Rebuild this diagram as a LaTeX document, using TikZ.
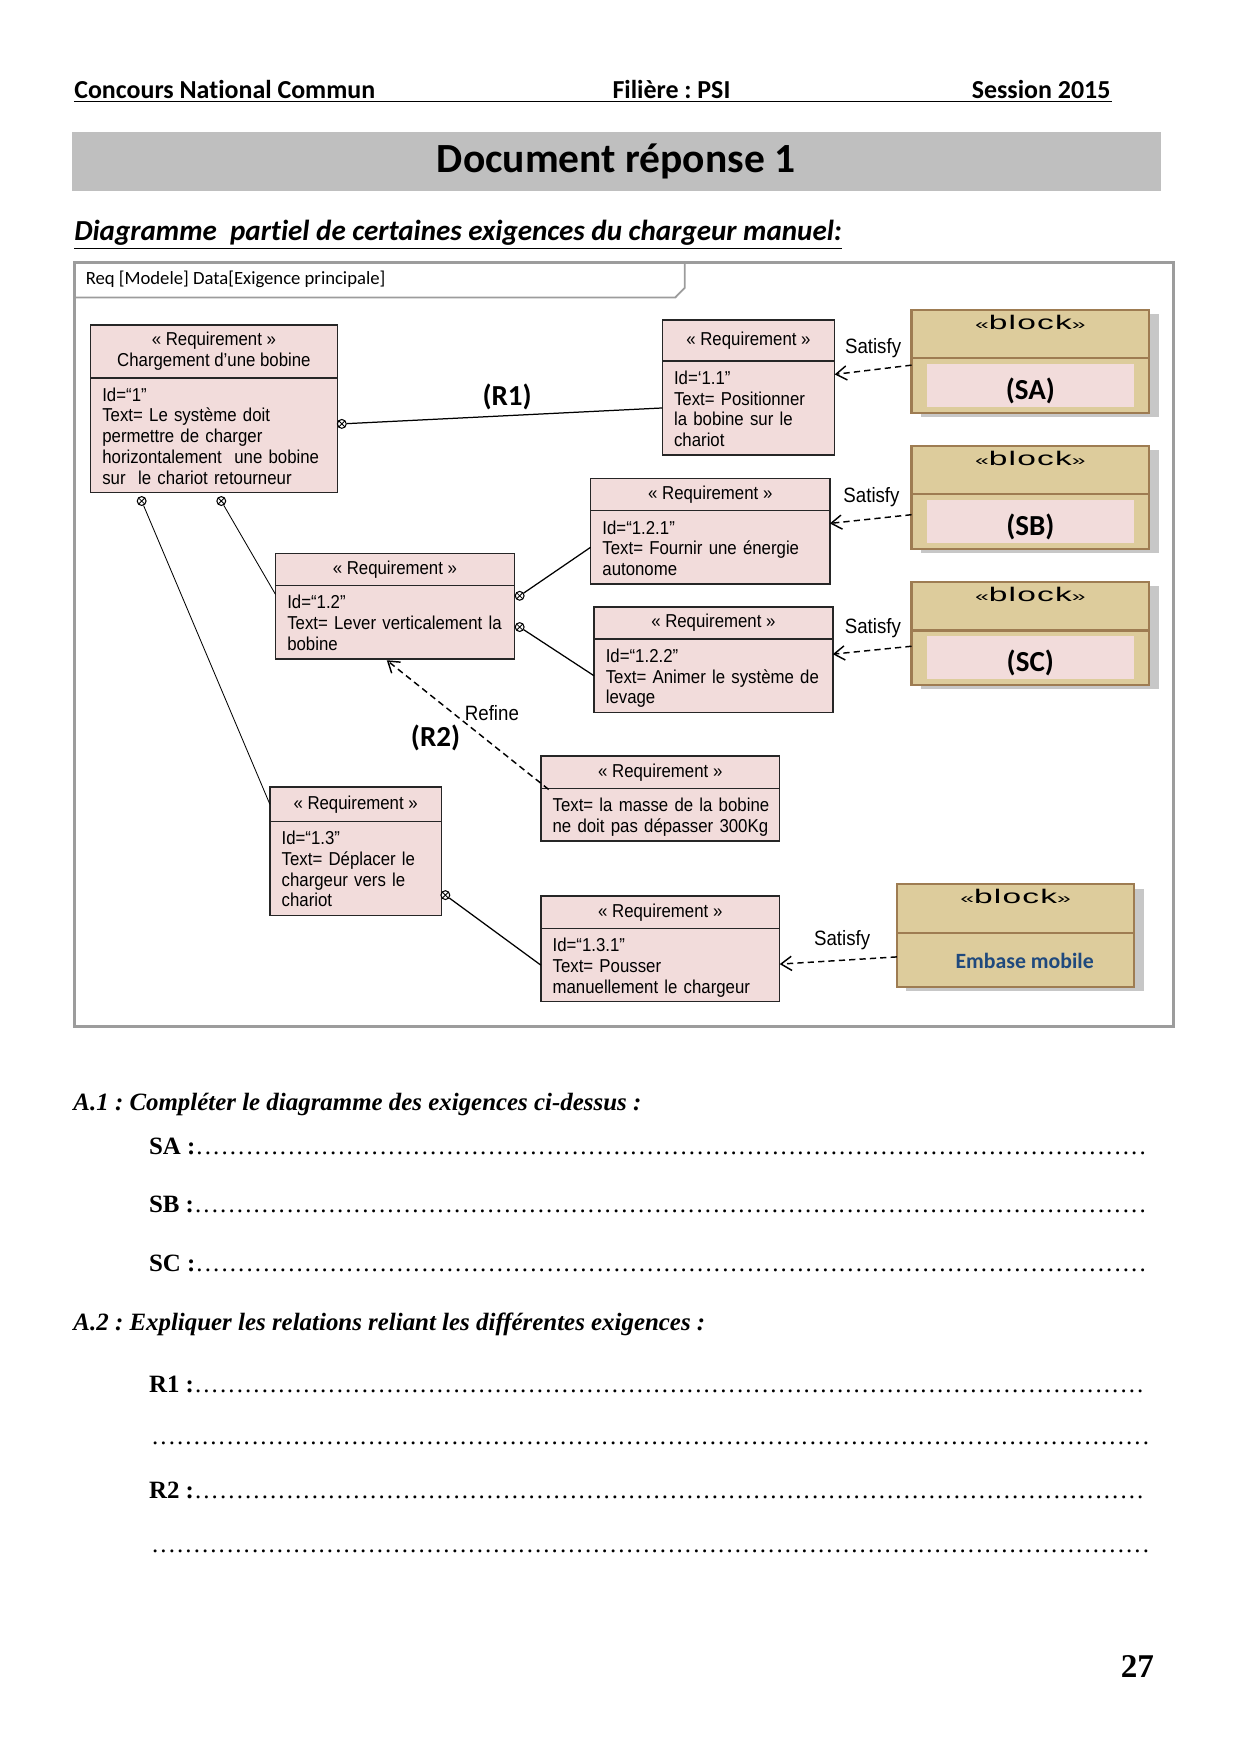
\documentclass[tikz,border=0pt]{standalone}
\usepackage{fontspec}
\setmainfont{Liberation Serif}
\newfontfamily\calibri[Ligatures={TeX,NoCommon}]{Carlito}
\newfontfamily\narrowsans[FakeStretch=0.9]{Liberation Sans}
\newfontfamily\widesans[FakeStretch=1.7, LetterSpace=6]{Liberation Sans}
\usetikzlibrary{shapes, arrows, arrows.meta, positioning, calc, shadows}
\frenchspacing

\definecolor{reqpink}{HTML}{F2DCDB}
\definecolor{blocktan}{HTML}{DDCC9C}
\definecolor{blockedge}{HTML}{9E7C52}
\definecolor{framegray}{HTML}{9C9C9C}
\definecolor{bandgray}{HTML}{BFBFBF}
\definecolor{embaseblue}{HTML}{1F497D}

\newcommand{\dotrow}{\xleaders\hbox to 4pt{\hss.\hss}\hfill}
\newcommand{\blocktag}{{\fontsize{7}{7}\selectfont«}block{\fontsize{7}{7}\selectfont»}}
\newcommand{\reqlines}[1]{\begin{tabular}{@{}l@{}}\rule{0pt}{10.2pt}#1\end{tabular}}

\begin{document}
\begin{tikzpicture}[x=0.01904cm, y=-0.01904cm, >={Straight Barb[length=1.8mm, width=2.4mm]},
    reqhead/.style={rectangle, draw=black!85, line width=0.7pt, fill=reqpink, outer sep=0pt, inner sep=0pt, align=center, font=\narrowsans\fontsize{9}{10}\selectfont},
    reqbody/.style={rectangle, draw=black!85, line width=0.7pt, fill=reqpink, outer sep=0pt, inner xsep=0.2cm, inner ysep=0pt, font=\narrowsans\fontsize{9}{10}\selectfont},
    blockhead/.style={rectangle, draw=blockedge, line width=1pt, fill=blocktan, outer sep=0pt, minimum width=4.025cm, minimum height=0.82cm, inner ysep=0.12cm, text height=0.21cm, text depth=0.37cm, font=\widesans\fontsize{9.5}{10}\selectfont, drop shadow={shadow xshift=0.16cm, shadow yshift=-0.07cm, fill=black!22, opacity=1}},
    blockbody/.style={rectangle, draw=blockedge, line width=1pt, fill=blocktan, outer sep=0pt, inner sep=0pt, minimum width=4.025cm, minimum height=0.92cm, drop shadow={shadow xshift=0.16cm, shadow yshift=-0.07cm, fill=black!22, opacity=1}},
    blockname/.style={rectangle, fill=reqpink, minimum width=3.5cm, minimum height=0.72cm, inner sep=0pt, text height=0.48cm, text depth=0pt, font=\calibri\bfseries\fontsize{14}{14}\selectfont},
    contain/.style={circle, draw, line width=0.5pt, fill=white, inner sep=0pt, minimum size=0.15cm, path picture={\draw[line width=0.4pt] (path picture bounding box.north west) -- (path picture bounding box.south east) (path picture bounding box.north east) -- (path picture bounding box.south west);}},
    satisfy/.style={->, dash pattern=on 3pt off 2pt, line width=0.7pt},
    rellabel/.style={inner sep=0pt, font=\narrowsans\fontsize{10}{10}\selectfont},
    relname/.style={inner sep=0pt, font=\calibri\bfseries\fontsize{14}{14}\selectfont},
    pagehead/.style={inner sep=0pt, font=\calibri\bfseries\fontsize{12.5}{14}\selectfont},
    question/.style={anchor=base west, inner sep=0pt, font=\bfseries\itshape\fontsize{12}{14}\selectfont},
    answer/.style={anchor=base west, inner sep=0pt, font=\fontsize{12}{14}\selectfont}
]
    \useasboundingbox (0,0) rectangle (1103,1560);

    % Page header
    \node (cnc) [pagehead, anchor=base west] at (65.7,87.5) {Concours National Commun};
    \node (filiere) [pagehead, anchor=base west] at (544.4,87.5) {Filière : PSI};
    \node (session) [pagehead, anchor=base east] at (988,87.5) {Session 2015};
    \draw[line width=0.6pt] (65.7,90) -- (989,90);
    \node (band) [fill=bandgray, minimum width=18.446cm, minimum height=0.988cm, inner sep=0pt, font=\calibri\bfseries\fontsize{20}{24}\selectfont] at (548,143.6) {Document réponse 1};
    \node (subtitle) [anchor=base west, inner sep=0pt, font=\calibri\bfseries\itshape\fontsize{14}{16}\selectfont] at (65.7,214) {\underline{Diagramme\ \ partiel de certaines exigences du chargeur manuel:}};

    % Frame
    \draw[framegray, line width=1.6pt] (66,233.5) rectangle (1043.5,913.2);
    \draw[framegray, line width=0.9pt] (66,264.6) -- (600.5,264.6) -- (609,256) -- (609,233.5);
    \node (frametitle) [anchor=west, inner sep=0pt, font=\calibri\fontsize{9}{10}\selectfont] at (75.9,248.5) {Req [Modele] Data[Exigence principale]};

    % Requirements
    \node (h1) [reqhead, anchor=north west, minimum width=4.18cm, minimum height=0.895cm] at (80.5,289) {« Requirement »\\Chargement d’une bobine};
    \node (b1) [reqbody, below=0pt of h1, text width=3.78cm, minimum height=1.942cm] {\reqlines{Id=“1”\\Text= Le système doit\\permettre de charger\\horizontalement\ \ une bobine\\sur\ \ le chariot retourneur}};

    \node (h11) [reqhead, anchor=north west, minimum width=2.921cm, minimum height=0.693cm] at (589,284.6) {« Requirement »};
    \node (b11) [reqbody, below=0pt of h11, text width=2.521cm, minimum height=1.594cm] {\reqlines{Id=‘1.1”\\Text= Positionner\\la bobine sur le\\chariot}};

    \node (h121) [reqhead, anchor=north west, minimum width=4.052cm, minimum height=0.537cm] at (525.3,425.8) {« Requirement »};
    \node (b121) [reqbody, below=0pt of h121, text width=3.652cm, minimum height=1.247cm] {\reqlines{Id=“1.2.1”\\Text= Fournir une énergie\\autonome}};

    \node (h12) [reqhead, anchor=north west, minimum width=4.046cm, minimum height=0.541cm] at (245,492.2) {« Requirement »};
    \node (b12) [reqbody, below=0pt of h12, text width=3.646cm, minimum height=1.249cm] {\reqlines{Id=“1.2”\\Text= Lever verticalement la\\bobine}};

    \node (h122) [reqhead, anchor=north west, minimum width=4.044cm, minimum height=0.541cm] at (528.3,540) {« Requirement »};
    \node (b122) [reqbody, below=0pt of h122, text width=3.644cm, minimum height=1.241cm] {\reqlines{Id=“1.2.2”\\Text= Animer le système de\\levage}};

    \node (hm) [reqhead, anchor=north west, minimum width=4.046cm, minimum height=0.546cm] at (481,672.5) {« Requirement »};
    \node (bm) [reqbody, below=0pt of hm, text width=3.646cm, minimum height=0.893cm] {\reqlines{Text= la masse de la bobine\\ne doit pas dépasser 300Kg}};

    \node (h13) [reqhead, anchor=north west, minimum width=2.906cm, minimum height=0.581cm] at (240,700) {« Requirement »};
    \node (b13) [reqbody, below=0pt of h13, text width=2.506cm, minimum height=1.59cm] {\reqlines{Id=“1.3”\\Text= Déplacer le\\chargeur vers le\\chariot}};

    \node (h131) [reqhead, anchor=north west, minimum width=4.046cm, minimum height=0.548cm] at (481,797) {« Requirement »};
    \node (b131) [reqbody, below=0pt of h131, text width=3.646cm, minimum height=1.241cm] {\reqlines{Id=“1.3.1”\\Text= Pousser\\manuellement le chargeur}};

    % Blocks
    \node (sah) [blockhead, anchor=north west] at (810.7,275.7) {\blocktag};
    \node (sab) [blockbody, below=0pt of sah] {};
    \node (sa) [blockname] at (sab) {(SA)};

    \node (sbh) [blockhead, anchor=north west] at (810.7,396.7) {\blocktag};
    \node (sbb) [blockbody, below=0pt of sbh] {};
    \node (sb) [blockname] at (sbb) {(SB)};

    \node (sch) [blockhead, anchor=north west] at (810.7,517.7) {\blocktag};
    \node (scb) [blockbody, below=0pt of sch] {};
    \node (sc) [blockname] at (scb) {(SC)};

    \node (emh) [blockhead, anchor=north west] at (797.6,786.6) {\blocktag};
    \node (emb) [blockbody, below=0pt of emh] {};
    \node (emname) [inner sep=0pt, text=embaseblue, font=\calibri\bfseries\fontsize{10.5}{12}\selectfont] at ($(emb)+(8,1)$) {Embase mobile};

    % Containment
    \node (m1) [contain] at (304,377) {};
    \node (m2) [contain] at (126,445.6) {};
    \node (m3) [contain] at (196.8,445.6) {};
    \node (m4) [contain] at (462.2,529.9) {};
    \node (m5) [contain] at (462.2,557.7) {};
    \node (m6) [contain] at (396.1,796.1) {};

    % Edges
    \draw[line width=0.6pt] (m1) -- (b11.west);
    \draw[line width=0.4pt] (m2) -- (h13.west);
    \draw[line width=0.4pt] (m3) -- ($(b12.north west)+(0,8)$);
    \draw[line width=0.6pt] (m4) -- (b121.west);
    \draw[line width=0.6pt] (m5) -- (b122.west);
    \draw[line width=0.6pt] (m6) -- (b131.west);
    \draw[satisfy] ($(sab.north west)+(0,6)$) -- ($(b11.north east)+(0,12)$);
    \draw[satisfy] ($(sbb.north west)+(0,18)$) -- ($(b121.north east)+(0,11.5)$);
    \draw[satisfy] ($(scb.north west)+(0,14)$) -- ($(b122.north east)+(0,13.4)$);
    \draw[satisfy] ($(emb.north west)+(0,21.4)$) -- ($(b131.north east)+(0,31.7)$);
    \draw[satisfy] ($(hm.south west)+(7,1)$) -- ($(b12.south west)+(99,1)$);

    % Labels
    \node (satA) [rellabel] at (776.5,309.8) {Satisfy};
    \node (satB) [rellabel] at (775.1,441.8) {Satisfy};
    \node (satC) [rellabel] at (776.3,558.9) {Satisfy};
    \node (satE) [rellabel] at (749,836.2) {Satisfy};
    \node (refine) [rellabel] at (437.5,634.5) {Refine};
    \node (r1) [relname] at (451,353) {(R1)};
    \node (r2) [relname] at (387.4,655.9) {(R2)};

    % Questions
    \node (qa1) [question] at (65,987.6) {A.1 : Compléter le diagramme des exigences ci-dessus :};
    \node (ansa) [answer] at (132.2,1026.4) {\hbox to 16.9cm{\textbf{SA :}\dotrow}};
    \node (ansb) [answer] at (132.2,1078.6) {\hbox to 16.9cm{\textbf{SB :}\dotrow}};
    \node (ansc) [answer] at (132.2,1130.7) {\hbox to 16.9cm{\textbf{SC :}\dotrow}};
    \node (qa2) [question] at (65,1183) {A.2 : Expliquer les relations reliant les différentes exigences :};
    \node (ansr1) [answer] at (132.2,1238.3) {\hbox to 16.86cm{\textbf{R1 :}\dotrow}};
    \node (ansr1b) [answer] at (134,1284.5) {\hbox to 16.92cm{\dotrow}};
    \node (ansr2) [answer] at (132.2,1332.5) {\hbox to 16.86cm{\textbf{R2 :}\dotrow}};
    \node (ansr2b) [answer] at (134,1380.7) {\hbox to 16.92cm{\dotrow}};
    \node (pagenum) [anchor=base east, inner sep=0pt, font=\bfseries\fontsize{16}{18}\selectfont] at (1026.7,1491.8) {27};
\end{tikzpicture}
\end{document}
